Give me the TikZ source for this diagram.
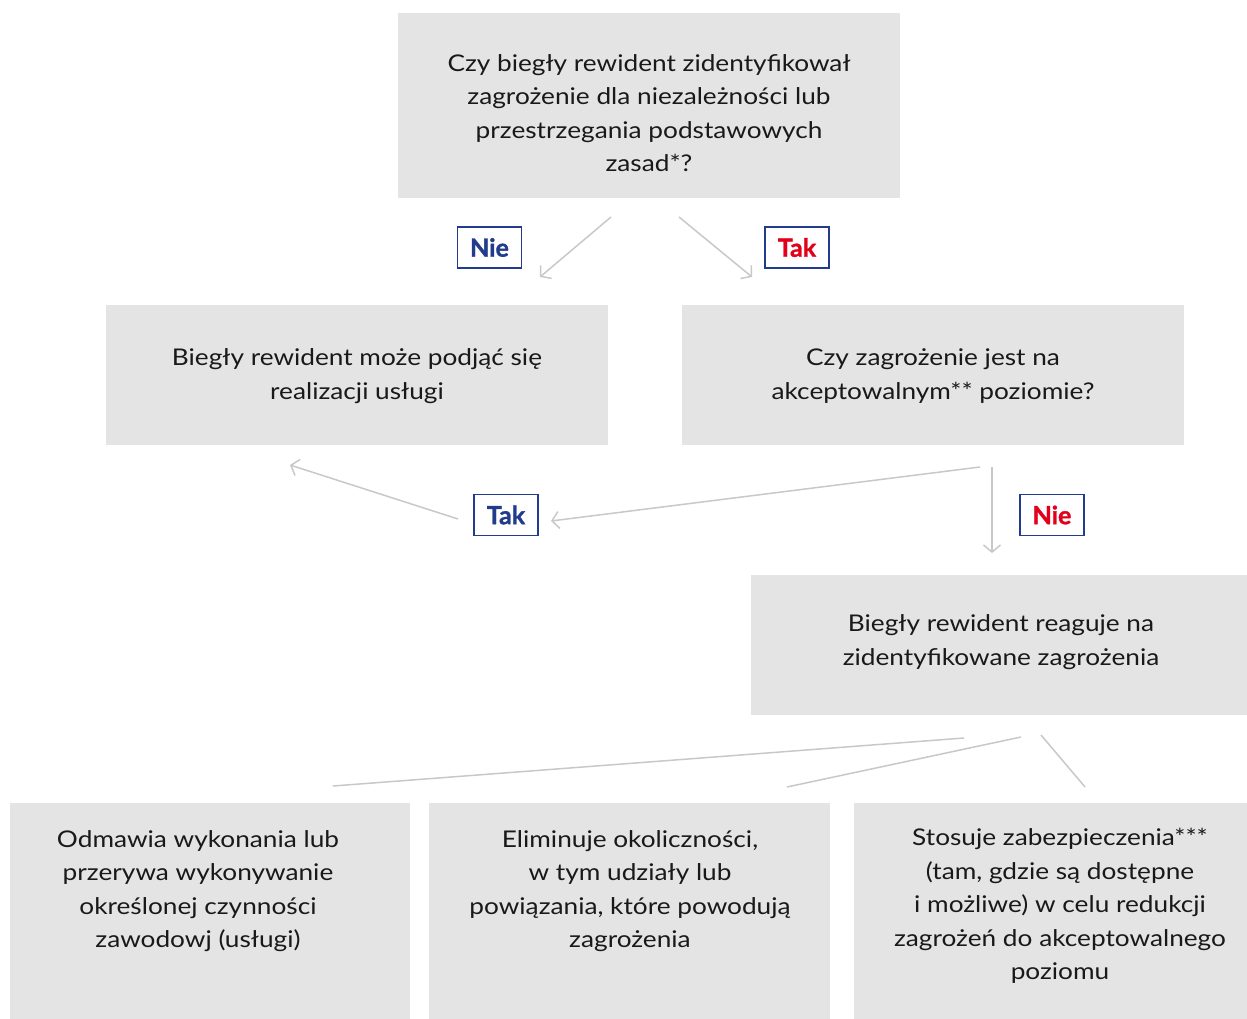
\documentclass[tikz,border=0pt]{standalone}
\usepackage{fontspec}
\setmainfont{Lato}[FakeStretch=1.14]
\newfontfamily\labfont{Lato}[BoldFeatures={FakeBold=1.2}]
\usetikzlibrary{arrows.meta}
\definecolor{boxgray}{HTML}{E4E4E4}
\definecolor{arrgray}{HTML}{C8C8C8}
\definecolor{lblue}{HTML}{213C8C}
\definecolor{lred}{HTML}{E2001A}
\tikzset{
  box/.style={fill=boxgray, draw=none, inner sep=0pt, anchor=north west},
  btext/.style={align=center, font=\fontsize{23}{33.5}\selectfont, inner sep=0pt, text=black!90},
  lab/.style={draw=lblue, line width=1.5pt, fill=white, minimum width=64pt, minimum height=41pt, inner sep=0pt, font=\labfont\fontsize{25}{28}\selectfont\bfseries},
  conn/.style={draw=arrgray, line width=1.5pt},
  arr/.style={conn, -{Straight Barb[length=7pt,width=17pt,line width=1.5pt]}}
}
\begin{document}
\begin{tikzpicture}[x=1pt,y=-1pt]
\useasboundingbox (0,0) rectangle (1247,1019);
% boxes
\node[box, minimum width=502pt, minimum height=185pt] (q1) at (398,13) {};
\node[box, minimum width=502pt, minimum height=140pt] (ok) at (106,305) {};
\node[box, minimum width=502pt, minimum height=140pt] (q2) at (682,305) {};
\node[box, minimum width=496pt, minimum height=140pt] (re) at (751,575) {};
\node[box, minimum width=400pt, minimum height=216pt] (b1) at (10,803) {};
\node[box, minimum width=401pt, minimum height=216pt] (b2) at (429,803) {};
\node[box, minimum width=393pt, minimum height=216pt] (b3) at (854,803) {};
% texts
\node[btext] (q1t) at (649,113) {Czy biegły rewident zidentyfikował\\zagrożenie dla niezależności lub\\przestrzegania podstawowych\\zasad*?};
\node[btext] (okt) at (357,376) {Biegły rewident może podjąć się\\realizacji usługi};
\node[btext] (q2t) at (933,376) {Czy zagrożenie jest na\\akceptowalnym** poziomie?};
\node[btext] (ret) at (1001,642) {Biegły rewident reaguje na\\zidentyfikowane zagrożenia};
\node[btext, anchor=north] (b1t) at (198,830) {Odmawia wykonania lub\\przerywa wykonywanie\\określonej czynności\\zawodowj (usługi)};
\node[btext, anchor=north] (b2t) at (630,830) {Eliminuje okoliczności,\\w tym udziały lub\\powiązania, które powodują\\zagrożenia};
\node[btext, anchor=north] (b3t) at (1060,828) {Stosuje zabezpieczenia***\\(tam, gdzie są dostępne\\i możliwe) w celu redukcji\\zagrożeń do akceptowalnego\\poziomu};
% connector end points
\coordinate (a1s) at (611,217); \coordinate (a1e) at (540,277);
\coordinate (a2s) at (679,217); \coordinate (a2e) at (752,277);
\coordinate (a3s) at (980,467); \coordinate (a3e) at (551,521);
\coordinate (a4s) at (458,519); \coordinate (a4e) at (290,465);
\coordinate (a5s) at (992,467); \coordinate (a5e) at (992,553);
\coordinate (l1s) at (964,738); \coordinate (l1e) at (333,786);
\coordinate (l2s) at (1021,737); \coordinate (l2e) at (787,787);
\coordinate (l3s) at (1041,735); \coordinate (l3e) at (1085,787);
\draw[arr] (a1s) -- (a1e);
\draw[arr] (a2s) -- (a2e);
\draw[arr] (a3s) -- (a3e);
\draw[arr] (a4s) -- (a4e);
\draw[arr] (a5s) -- (a5e);
\draw[conn] (l1s) -- (l1e);
\draw[conn] (l2s) -- (l2e);
\draw[conn] (l3s) -- (l3e);
% labels
\node[lab, text=lblue] (n1) at (489.5,247.5) {Nie};
\node[lab, text=lred] (t1) at (797,247.5) {Tak};
\node[lab, text=lblue] (t2) at (506,515) {Tak};
\node[lab, text=lred] (n2) at (1052,515) {Nie};
\end{tikzpicture}
\end{document}
